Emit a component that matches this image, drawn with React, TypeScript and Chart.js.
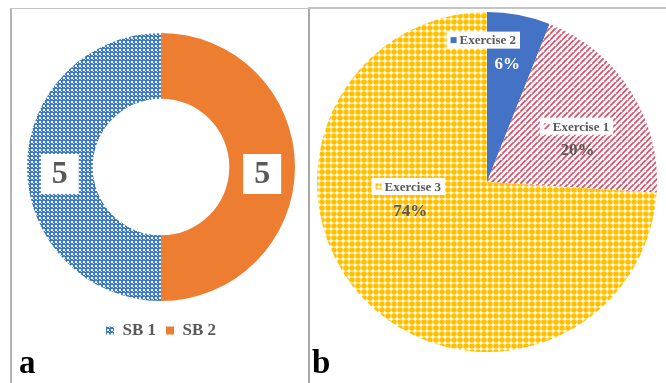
import React, { useEffect, useRef } from "react";
import { Chart, registerables } from "chart.js";

Chart.register(...registerables);

// Panel a: doughnut of session blocks
const sbLabels = ["SB 1", "SB 2"];
const sbValues = [5, 5];

// Panel b: share of each exercise (clockwise from 12 o'clock)
const exerciseLabels = ["Exercise 2", "Exercise 1", "Exercise 3"];
const exerciseShares = [6, 20, 74];

const SERIF = '"Liberation Serif", "Times New Roman", serif';
const GRAY = "#595959";

function tile(size: number, draw: (g: CanvasRenderingContext2D) => void) {
  const c = document.createElement("canvas");
  c.width = size;
  c.height = size;
  const g = c.getContext("2d") as CanvasRenderingContext2D;
  draw(g);
  return g.createPattern(c, "repeat") as CanvasPattern;
}

function checkerBlue() {
  return tile(4, (g) => {
    g.fillStyle = "#3b79c3";
    g.fillRect(0, 0, 4, 4);
    g.fillStyle = "#ffffff";
    g.fillRect(0, 0, 2, 2);
    g.fillStyle = "#dbe7f5";
    g.fillRect(2, 2, 1, 1);
  });
}

function dotsYellow() {
  return tile(6, (g) => {
    g.fillStyle = "#ffffff";
    g.fillRect(0, 0, 6, 6);
    g.fillStyle = "#ffc000";
    g.beginPath();
    g.arc(3, 3, 2.8, 0, Math.PI * 2);
    g.fill();
  });
}

function weaveRed() {
  return tile(6, (g) => {
    g.fillStyle = "#ffffff";
    g.fillRect(0, 0, 6, 6);
    g.strokeStyle = "#d65069";
    g.lineWidth = 1.7;
    g.beginPath();
    g.moveTo(-1, 7);
    g.lineTo(7, -1);
    g.stroke();
    g.beginPath();
    g.moveTo(-1, 1);
    g.lineTo(1, -1);
    g.stroke();
    g.beginPath();
    g.moveTo(5, 7);
    g.lineTo(7, 5);
    g.stroke();
    g.fillStyle = "#ffffff";
    g.fillRect(2, 2, 1.2, 1.2);
  });
}

// Value labels "5" on white boxes at the middle of each ring segment
const ringValueLabels = {
  id: "ringValueLabels",
  afterDatasetsDraw(chart: any) {
    const ctx = chart.ctx as CanvasRenderingContext2D;
    const meta = chart.getDatasetMeta(0);
    const values = chart.data.datasets[0].data as number[];
    ctx.save();
    meta.data.forEach((arc: any, i: number) => {
      const p = arc.tooltipPosition(true);
      const cx = p.x;
      const cy = p.y + 7;
      const w = 38;
      const h = 40;
      ctx.fillStyle = "#ffffff";
      ctx.fillRect(cx - w / 2, cy - h / 2, w, h);
      ctx.fillStyle = GRAY;
      ctx.font = `bold 32px ${SERIF}`;
      ctx.textAlign = "center";
      ctx.textBaseline = "middle";
      ctx.fillText(String(values[i]), cx, cy + 1);
    });
    ctx.restore();
  },
};

// Category name (with key) and percentage for each pie slice
const sliceLabels = {
  id: "sliceLabels",
  afterDatasetsDraw(chart: any, _args: any, opts: any) {
    const ctx = chart.ctx as CanvasRenderingContext2D;
    const meta = chart.getDatasetMeta(0);
    const ds = chart.data.datasets[0];
    const values = ds.data as number[];
    const total = values.reduce((a: number, b: number) => a + b, 0);
    ctx.save();
    meta.data.forEach((arc: any, i: number) => {
      const a = arc.getProps(["x", "y", "startAngle", "endAngle", "outerRadius"], true);
      const mid = (a.startAngle + a.endAngle) / 2;
      const ax = a.x + Math.cos(mid) * a.outerRadius * opts.radius;
      const ay = a.y + Math.sin(mid) * a.outerRadius * opts.radius;
      const pl = opts.placement[i];

      // name box
      ctx.font = `bold 13px ${SERIF}`;
      const name = chart.data.labels[i] as string;
      const tw = ctx.measureText(name).width;
      const key = 6;
      const gap = 3;
      const pad = 4;
      const bw = pad + key + gap + tw + pad;
      const bh = 17;
      const nx = ax + pl.name[0];
      const ny = ay + pl.name[1];
      const left = nx - bw / 2;
      ctx.fillStyle = "#ffffff";
      ctx.fillRect(left, ny - bh / 2, bw, bh);
      ctx.fillStyle = ds.backgroundColor[i];
      ctx.fillRect(left + pad, ny - key / 2, key, key);
      ctx.fillStyle = GRAY;
      ctx.textAlign = "left";
      ctx.textBaseline = "middle";
      ctx.fillText(name, left + pad + key + gap, ny + 1);

      // percentage
      ctx.font = `bold 17px ${SERIF}`;
      ctx.textAlign = "center";
      ctx.fillStyle = pl.color;
      const pct = Math.round((values[i] / total) * 100);
      ctx.fillText(`${pct}%`, ax + pl.pct[0], ay + pl.pct[1]);
    });
    ctx.restore();
  },
};

function RingChart() {
  const ref = useRef<HTMLCanvasElement>(null);
  useEffect(() => {
    const chart = new Chart(ref.current as HTMLCanvasElement, {
      type: "doughnut",
      data: {
        labels: sbLabels,
        datasets: [
          {
            data: sbValues,
            backgroundColor: [checkerBlue(), "#ed7d31"],
            borderWidth: 0,
          },
        ],
      },
      options: {
        responsive: false,
        animation: false,
        cutout: "51%",
        rotation: 180,
        layout: { padding: { left: 16, right: 12, top: 13, bottom: 34 } },
        plugins: {
          tooltip: { enabled: false },
          legend: {
            position: "bottom",
            labels: {
              boxWidth: 8,
              boxHeight: 8,
              padding: 10,
              color: GRAY,
              font: { family: SERIF, size: 17, weight: "bold" },
            },
          },
        },
      },
      plugins: [ringValueLabels],
    } as any);
    return () => chart.destroy();
  }, []);
  return (
    <canvas
      ref={ref}
      width={296}
      height={374}
      style={{ position: "absolute", left: 11, top: 9, width: 296, height: 374 }}
    />
  );
}

function PieChart() {
  const ref = useRef<HTMLCanvasElement>(null);
  useEffect(() => {
    const chart = new Chart(ref.current as HTMLCanvasElement, {
      type: "pie",
      data: {
        labels: exerciseLabels,
        datasets: [
          {
            data: exerciseShares,
            backgroundColor: ["#4472c4", weaveRed(), dotsYellow()],
            borderWidth: 0,
          },
        ],
      },
      options: {
        responsive: false,
        animation: false,
        layout: { padding: { left: 10, right: 9, top: 5, bottom: 31 } },
        plugins: {
          tooltip: { enabled: false },
          legend: { display: false },
          sliceLabels: {
            radius: 0.7,
            placement: [
              { name: [-26, -25], pct: [-2, 0], color: "#ffffff" },
              { name: [-11, 8], pct: [-10, 32], color: GRAY },
              { name: [8, -77], pct: [10, -52], color: GRAY },
            ],
          },
        },
      },
      plugins: [sliceLabels],
    } as any);
    return () => chart.destroy();
  }, []);
  return (
    <canvas
      ref={ref}
      width={359}
      height={376}
      style={{ position: "absolute", left: 307, top: 7, width: 359, height: 376 }}
    />
  );
}

const letterStyle: React.CSSProperties = {
  position: "absolute",
  fontFamily: SERIF,
  fontWeight: "bold",
  fontSize: 33,
  lineHeight: "33px",
  color: "#000000",
};

export default function App() {
  return (
    <div
      style={{
        position: "fixed",
        left: 0,
        top: 0,
        width: 666,
        height: 383,
        background: "#ffffff",
        overflow: "hidden",
      }}
    >
      <div
        style={{
          position: "absolute",
          left: 10,
          top: 8,
          width: 296,
          height: 380,
          borderLeft: "2px solid #b4b4b4",
          borderTop: "1px solid #c4c4c4",
          borderRight: "2px solid #a8a8a8",
        }}
      />
      <div
        style={{
          position: "absolute",
          left: 308,
          top: 7,
          width: 358,
          height: 0,
          borderTop: "2px solid #c4c4c4",
        }}
      />
      <RingChart />
      <PieChart />
      <div style={{ ...letterStyle, left: 19, top: 346 }}>a</div>
      <div style={{ ...letterStyle, left: 312, top: 346 }}>b</div>
    </div>
  );
}
